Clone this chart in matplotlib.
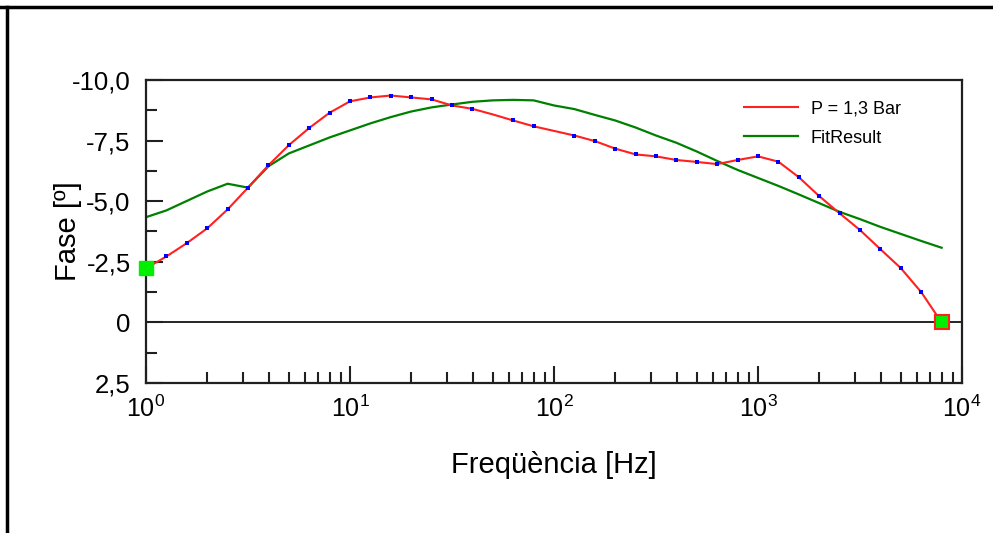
import numpy as np
import matplotlib
matplotlib.use('Agg')
import matplotlib.pyplot as plt
from matplotlib.lines import Line2D
from matplotlib.ticker import FixedLocator, LogLocator, NullFormatter

plt.rcParams['font.family'] = ['Liberation Sans', 'DejaVu Sans']

# frequencias: 10 pontos por decada, de 10^0 ate 10^3.9
freq = 10 ** (np.arange(40) / 10.0)

# fase medida (P = 1,3 Bar)
fase = [-2.23, -2.72, -3.27, -3.88, -4.66, -5.56, -6.48, -7.31, -8.02, -8.65,
        -9.12, -9.28, -9.36, -9.28, -9.20, -8.95, -8.81, -8.58, -8.33, -8.09,
        -7.90, -7.71, -7.48, -7.17, -6.93, -6.85, -6.70, -6.62, -6.53, -6.70,
        -6.85, -6.63, -5.99, -5.21, -4.50, -3.81, -3.02, -2.24, -1.25, 0.0]

# curva ajustada
fit = [-4.34, -4.62, -5.01, -5.40, -5.72, -5.56, -6.44, -6.97, -7.30, -7.63,
       -7.92, -8.21, -8.47, -8.70, -8.87, -8.99, -9.10, -9.16, -9.18, -9.16,
       -8.95, -8.80, -8.56, -8.33, -8.04, -7.71, -7.41, -7.05, -6.66, -6.29,
       -5.96, -5.63, -5.28, -4.92, -4.56, -4.26, -3.94, -3.65, -3.36, -3.08]

# pontos sem marcador azul
sem_ponto = [17, 20]

yticks = [-10, -7.5, -5, -2.5, 0, 2.5]
ylabels = ['-10,0', '-7,5', '-5,0', '-2,5', '0', '2,5']

fig = plt.figure(figsize=(9.93, 5.33), dpi=100)
ax = fig.add_axes([146/993, 1-383/533, (962-146)/993, (383-80)/533])

ax.axhline(0, color='black', lw=1.2, zorder=1)
ax.plot(freq, fit, color='#008000', lw=1.6, label='FitResult', zorder=2)
ax.plot(freq, fase, color='#ff2020', lw=1.5, label='P = 1,3 Bar', zorder=3)

idx = [i for i in range(len(freq)) if i not in sem_ponto]
ax.plot(freq[idx], np.array(fase)[idx], 's', color='#0000ff', ms=3.5, mew=0, zorder=4)

# marcadores dos extremos
ax.plot(freq[0], fase[0], 's', color='#00ee00', ms=10, mec='#00ee00', zorder=5, clip_on=False)
ax.plot(freq[-1], fase[-1], 's', color='#00ee00', ms=10, mec='#ff2020', mew=1.5, zorder=5, clip_on=False)

ax.set_xscale('log')
ax.set_xlim(1, 1e4)
ax.set_ylim(2.5, -10)

ax.yaxis.set_major_locator(FixedLocator(yticks))
ax.set_yticklabels(ylabels)
ax.yaxis.set_minor_locator(FixedLocator([-8.75, -6.25, -3.75, -1.25, 1.25]))
ax.xaxis.set_minor_locator(LogLocator(base=10, subs=np.arange(2, 10)))
ax.xaxis.set_minor_formatter(NullFormatter())

ax.tick_params(which='both', direction='in', width=1.5, color='#202020')
ax.tick_params(which='major', length=12)
ax.tick_params(which='minor', length=8)
ax.tick_params(axis='y', labelsize=18.5, pad=11)
ax.tick_params(axis='x', labelsize=18, pad=9)

for s in ax.spines.values():
    s.set_linewidth(1.6)
    s.set_color('#202020')

ax.set_ylabel('Fase [º]', fontsize=21)
ax.yaxis.set_label_coords(-0.078, 0.5)
ax.set_xlabel('Freqüència [Hz]', fontsize=21)
ax.xaxis.set_label_coords(0.5, -0.225)

handles, labels = ax.get_legend_handles_labels()
ax.legend(handles[::-1], labels[::-1], loc='upper left', bbox_to_anchor=(0.713, 0.985),
          frameon=False, fontsize=13, handlelength=3.0, labelspacing=0.65,
          handletextpad=0.7)

# moldura da figura (so topo e esquerda)
fig.add_artist(Line2D([0, 1], [1-7/533, 1-7/533], color='black', lw=2.5, transform=fig.transFigure))
fig.add_artist(Line2D([7/993, 7/993], [0, 1-7/533], color='black', lw=2.5, transform=fig.transFigure))

fig.savefig('out.png', dpi=100)
